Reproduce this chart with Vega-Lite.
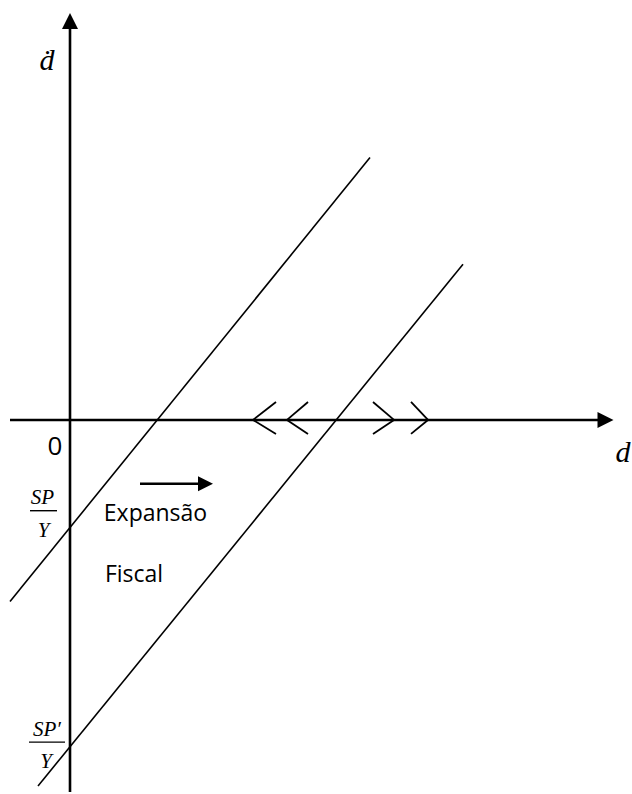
{
  "$schema": "https://vega.github.io/schema/vega-lite/v6.json",
  "width": 632,
  "height": 794,
  "padding": 0,
  "autosize": {"type": "fit", "contains": "padding"},
  "background": "white",
  "config": {"view": {"stroke": null}},
  "datasets": {
    "axes": [
      {"x1": 0, "y1": 395, "x2": 0, "y2": -373},
      {"x1": -60, "y1": 0, "x2": 532, "y2": 0}
    ],
    "lines": [
      {"x1": -60, "y1": -182, "x2": 300, "y2": 263},
      {"x1": -32, "y1": -367, "x2": 393, "y2": 156}
    ],
    "chevrons": [
      {"x1": 183, "y1": 0, "x2": 206, "y2": 18},
      {"x1": 183, "y1": 0, "x2": 206, "y2": -14},
      {"x1": 217, "y1": 0, "x2": 238, "y2": 18},
      {"x1": 217, "y1": 0, "x2": 238, "y2": -14},
      {"x1": 324, "y1": 0, "x2": 303, "y2": 18},
      {"x1": 324, "y1": 0, "x2": 303, "y2": -14},
      {"x1": 358, "y1": 0, "x2": 341, "y2": 18},
      {"x1": 358, "y1": 0, "x2": 341, "y2": -14}
    ],
    "shaft": [{"x1": 70, "y1": -64, "x2": 130, "y2": -64}],
    "bars": [
      {"x1": -40, "y1": -91, "x2": -13, "y2": -91},
      {"x1": -41, "y1": -323, "x2": -5, "y2": -323}
    ],
    "headUp": [{"x": 0, "y": 400}],
    "headRight": [{"x": 535.5, "y": 0}],
    "headSmall": [{"x": 135.5, "y": -64}],
    "zero": [{"x": -15, "y": -35, "t": "0"}],
    "sans": [
      {"x": 85.5, "y": -101, "t": "Expansão"},
      {"x": 64, "y": -162, "t": "Fiscal"}
    ],
    "mathBig": [
      {"x": -23, "y": 351, "t": "ḋ"},
      {"x": 553, "y": -42, "t": "d"}
    ],
    "mathSmall": [
      {"x": -27.5, "y": -84, "t": "SP"},
      {"x": -26.5, "y": -117, "t": "Y"},
      {"x": -23, "y": -317, "t": "SP′"},
      {"x": -24, "y": -349, "t": "Y"}
    ]
  },
  "layer": [
    {
      "data": {"name": "axes"},
      "mark": {"type": "rule", "strokeWidth": 2.6, "color": "black"},
      "encoding": {
        "x": {"field": "x1", "type": "quantitative", "scale": {"domain": [-70, 562], "nice": false, "zero": false}, "axis": null},
        "y": {"field": "y1", "type": "quantitative", "scale": {"domain": [-373, 421], "nice": false, "zero": false}, "axis": null},
        "x2": {"field": "x2"},
        "y2": {"field": "y2"}
      }
    },
    {
      "data": {"name": "lines"},
      "mark": {"type": "rule", "strokeWidth": 1.6, "color": "black"},
      "encoding": {
        "x": {"field": "x1", "type": "quantitative", "scale": {"domain": [-70, 562], "nice": false, "zero": false}, "axis": null},
        "y": {"field": "y1", "type": "quantitative", "scale": {"domain": [-373, 421], "nice": false, "zero": false}, "axis": null},
        "x2": {"field": "x2"},
        "y2": {"field": "y2"}
      }
    },
    {
      "data": {"name": "chevrons"},
      "mark": {"type": "rule", "strokeWidth": 1.8, "color": "black"},
      "encoding": {
        "x": {"field": "x1", "type": "quantitative", "scale": {"domain": [-70, 562], "nice": false, "zero": false}, "axis": null},
        "y": {"field": "y1", "type": "quantitative", "scale": {"domain": [-373, 421], "nice": false, "zero": false}, "axis": null},
        "x2": {"field": "x2"},
        "y2": {"field": "y2"}
      }
    },
    {
      "data": {"name": "shaft"},
      "mark": {"type": "rule", "strokeWidth": 2.6, "color": "black"},
      "encoding": {
        "x": {"field": "x1", "type": "quantitative", "scale": {"domain": [-70, 562], "nice": false, "zero": false}, "axis": null},
        "y": {"field": "y1", "type": "quantitative", "scale": {"domain": [-373, 421], "nice": false, "zero": false}, "axis": null},
        "x2": {"field": "x2"},
        "y2": {"field": "y2"}
      }
    },
    {
      "data": {"name": "bars"},
      "mark": {"type": "rule", "strokeWidth": 1.4, "color": "black"},
      "encoding": {
        "x": {"field": "x1", "type": "quantitative", "scale": {"domain": [-70, 562], "nice": false, "zero": false}, "axis": null},
        "y": {"field": "y1", "type": "quantitative", "scale": {"domain": [-373, 421], "nice": false, "zero": false}, "axis": null},
        "x2": {"field": "x2"},
        "y2": {"field": "y2"}
      }
    },
    {
      "data": {"name": "headUp"},
      "mark": {"type": "point", "shape": "M0,-1L1,1L-1,1Z", "size": 256, "filled": true, "color": "black", "opacity": 1, "strokeWidth": 0},
      "encoding": {
        "x": {"field": "x", "type": "quantitative", "scale": {"domain": [-70, 562], "nice": false, "zero": false}, "axis": null},
        "y": {"field": "y", "type": "quantitative", "scale": {"domain": [-373, 421], "nice": false, "zero": false}, "axis": null}
      }
    },
    {
      "data": {"name": "headRight"},
      "mark": {"type": "point", "shape": "M1,0L-1,1L-1,-1Z", "size": 256, "filled": true, "color": "black", "opacity": 1, "strokeWidth": 0},
      "encoding": {
        "x": {"field": "x", "type": "quantitative", "scale": {"domain": [-70, 562], "nice": false, "zero": false}, "axis": null},
        "y": {"field": "y", "type": "quantitative", "scale": {"domain": [-373, 421], "nice": false, "zero": false}, "axis": null}
      }
    },
    {
      "data": {"name": "headSmall"},
      "mark": {"type": "point", "shape": "M1,0L-1,1L-1,-1Z", "size": 225, "filled": true, "color": "black", "opacity": 1, "strokeWidth": 0},
      "encoding": {
        "x": {"field": "x", "type": "quantitative", "scale": {"domain": [-70, 562], "nice": false, "zero": false}, "axis": null},
        "y": {"field": "y", "type": "quantitative", "scale": {"domain": [-373, 421], "nice": false, "zero": false}, "axis": null}
      }
    },
    {
      "data": {"name": "zero"},
      "mark": {"type": "text", "font": "Open Sans", "fontSize": 26, "align": "center", "baseline": "alphabetic", "color": "black"},
      "encoding": {
        "x": {"field": "x", "type": "quantitative", "scale": {"domain": [-70, 562], "nice": false, "zero": false}, "axis": null},
        "y": {"field": "y", "type": "quantitative", "scale": {"domain": [-373, 421], "nice": false, "zero": false}, "axis": null},
        "text": {"field": "t"}
      }
    },
    {
      "data": {"name": "sans"},
      "mark": {"type": "text", "font": "Open Sans", "fontSize": 23, "align": "center", "baseline": "alphabetic", "color": "black"},
      "encoding": {
        "x": {"field": "x", "type": "quantitative", "scale": {"domain": [-70, 562], "nice": false, "zero": false}, "axis": null},
        "y": {"field": "y", "type": "quantitative", "scale": {"domain": [-373, 421], "nice": false, "zero": false}, "axis": null},
        "text": {"field": "t"}
      }
    },
    {
      "data": {"name": "mathBig"},
      "mark": {"type": "text", "font": "Liberation Serif", "fontStyle": "italic", "fontSize": 30, "align": "center", "baseline": "alphabetic", "color": "black"},
      "encoding": {
        "x": {"field": "x", "type": "quantitative", "scale": {"domain": [-70, 562], "nice": false, "zero": false}, "axis": null},
        "y": {"field": "y", "type": "quantitative", "scale": {"domain": [-373, 421], "nice": false, "zero": false}, "axis": null},
        "text": {"field": "t"}
      }
    },
    {
      "data": {"name": "mathSmall"},
      "mark": {"type": "text", "font": "Liberation Serif", "fontStyle": "italic", "fontSize": 21, "align": "center", "baseline": "alphabetic", "color": "black"},
      "encoding": {
        "x": {"field": "x", "type": "quantitative", "scale": {"domain": [-70, 562], "nice": false, "zero": false}, "axis": null},
        "y": {"field": "y", "type": "quantitative", "scale": {"domain": [-373, 421], "nice": false, "zero": false}, "axis": null},
        "text": {"field": "t"}
      }
    }
  ]
}
